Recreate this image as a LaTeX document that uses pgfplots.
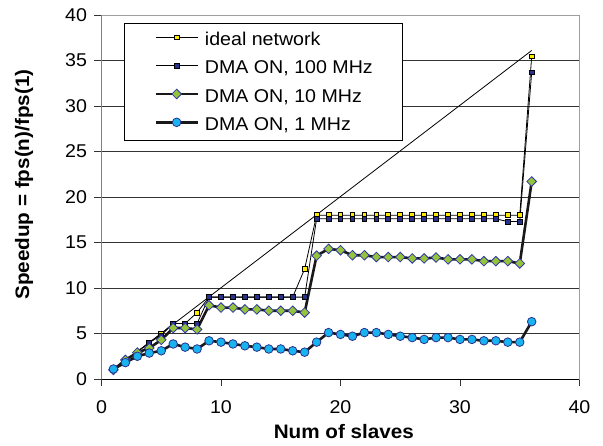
\documentclass[border=0pt]{standalone}
\usepackage{fontspec}
\setmainfont{Liberation Sans}[FakeStretch=1.06]
\usepackage{pgfplots}
\pgfplotsset{compat=1.18}
\definecolor{ylw}{RGB}{255,235,0}
\definecolor{navy}{RGB}{40,50,140}
\definecolor{grn}{RGB}{150,195,60}
\definecolor{dblue}{RGB}{45,55,165}
\definecolor{cyantwo}{RGB}{25,180,240}
\pgfplotstableread{
x y
1 1
2 2
3 3
4 4
5 5
6 6.1
7 6.1
8 7.3
9 9
10 9
11 9
12 9
13 9
14 9
15 9
16 9
17 12.1
18 18
19 18
20 18
21 18
22 18
23 18
24 18
25 18
26 18
27 18
28 18
29 18
30 18
31 18
32 18
33 18
34 18
35 18
36 35.45
}\ideal
\pgfplotstableread{
x y
1 1
2 2
3 3
4 4
5 4.8
6 6.1
7 6.1
8 6.1
9 9
10 9
11 9
12 9
13 9
14 9
15 9
16 9
17 9
18 17.6
19 17.6
20 17.6
21 17.6
22 17.6
23 17.6
24 17.6
25 17.6
26 17.6
27 17.6
28 17.6
29 17.6
30 17.6
31 17.6
32 17.6
33 17.6
34 17.3
35 17.3
36 33.7
}\hundred
\pgfplotstableread{
x y
1 1
2 2.1
3 2.9
4 3.4
5 4.3
6 5.6
7 5.6
8 5.45
9 8.1
10 7.85
11 7.85
12 7.65
13 7.65
14 7.5
15 7.5
16 7.5
17 7.3
18 13.55
19 14.3
20 14.15
21 13.6
22 13.6
23 13.4
24 13.4
25 13.4
26 13.25
27 13.25
28 13.35
29 13.15
30 13.15
31 13.15
32 12.95
33 12.95
34 12.95
35 12.7
36 21.7
}\ten
\pgfplotstableread{
x y
1 1.1
2 1.8
3 2.5
4 2.85
5 3.1
6 3.85
7 3.5
8 3.3
9 4.2
10 4.05
11 3.85
12 3.65
13 3.5
14 3.3
15 3.3
16 3.1
17 2.95
18 4.05
19 5.1
20 4.9
21 4.7
22 5.1
23 5.1
24 4.9
25 4.7
26 4.55
27 4.35
28 4.55
29 4.55
30 4.35
31 4.35
32 4.2
33 4.2
34 4.05
35 4.05
36 6.3
}\one
\begin{document}
\begin{tikzpicture}
\useasboundingbox (-101.5pt,-66pt) rectangle (501.5pt,379pt);
\begin{axis}[
  scale only axis, width=478pt, height=364pt,
  xmin=0, xmax=40, ymin=0, ymax=40,
  xtick={0,10,...,40}, ytick={0,5,...,40},
  tick align=outside, major tick length=7pt,
  xtick pos=lower, ytick pos=left,
  tick style={black!80, line width=0.6pt},
  ymajorgrids, grid style={black!80, line width=0.6pt},
  axis line style={gray!75, line width=0.8pt},
  /pgf/number format/assume math mode=true,
  tick label style={font=\fontsize{18.5}{20}\selectfont},
  xticklabel style={yshift=-11pt},
  yticklabel style={xshift=-4pt},
  xlabel={Num of slaves}, ylabel={Speedup = fps(n)/fps(1)},
  label style={font=\fontsize{19.5}{22}\selectfont\bfseries},
  xlabel style={at={(axis description cs:0.507,-0.164)}, anchor=base},
  ylabel style={at={(axis description cs:-0.1513,0.534)}, anchor=base},
  legend cell align=left,
  legend image code/.code={\draw[yshift=2pt,mark repeat=2,mark phase=2,#1] plot coordinates {(0pt,0pt) (21pt,0pt) (42pt,0pt)}; \path (48pt,0pt);},
  legend style={at={(axis description cs:0.047,0.978)}, anchor=north west,
    draw=black, fill=white, line width=0.8pt,
    inner xsep=30pt, inner ysep=8pt, row sep=12.3pt,
    font=\fontsize{18.5}{20}\selectfont,
    nodes={inner sep=0pt, text height=14pt, text depth=2pt}},
]
\addplot[black, line width=0.8pt, forget plot] coordinates {(1,1) (36,36.1)};
\addplot[black, line width=0.8pt, mark=square*, mark size=2.4pt,
  mark options={fill=ylw, draw=black, line width=0.8pt}] table {\ideal};
\addlegendentry{ideal network}
\addplot[black, line width=0.8pt, mark=square*, mark size=2.4pt,
  mark options={fill=navy, draw=black, line width=0.8pt}] table {\hundred};
\addlegendentry{DMA ON, 100 MHz}
\addplot[black!90, line width=2.6pt, mark=square*, mark size=3.4pt,
  mark options={rotate=45, fill=grn, draw=dblue, line width=0.8pt}] table {\ten};
\addlegendentry{DMA ON, 10 MHz}
\addplot[black!90, line width=2.6pt, mark=*, mark size=4.3pt,
  mark options={fill=cyantwo, draw=navy, line width=0.8pt}] table {\one};
\addlegendentry{DMA ON, 1 MHz}
\draw[black, line width=0.8pt] (rel axis cs:0,0) -- (rel axis cs:1,0);
\draw[black!55, line width=0.8pt] (rel axis cs:0,0) -- (rel axis cs:0,1);
\end{axis}
\end{tikzpicture}
\end{document}
